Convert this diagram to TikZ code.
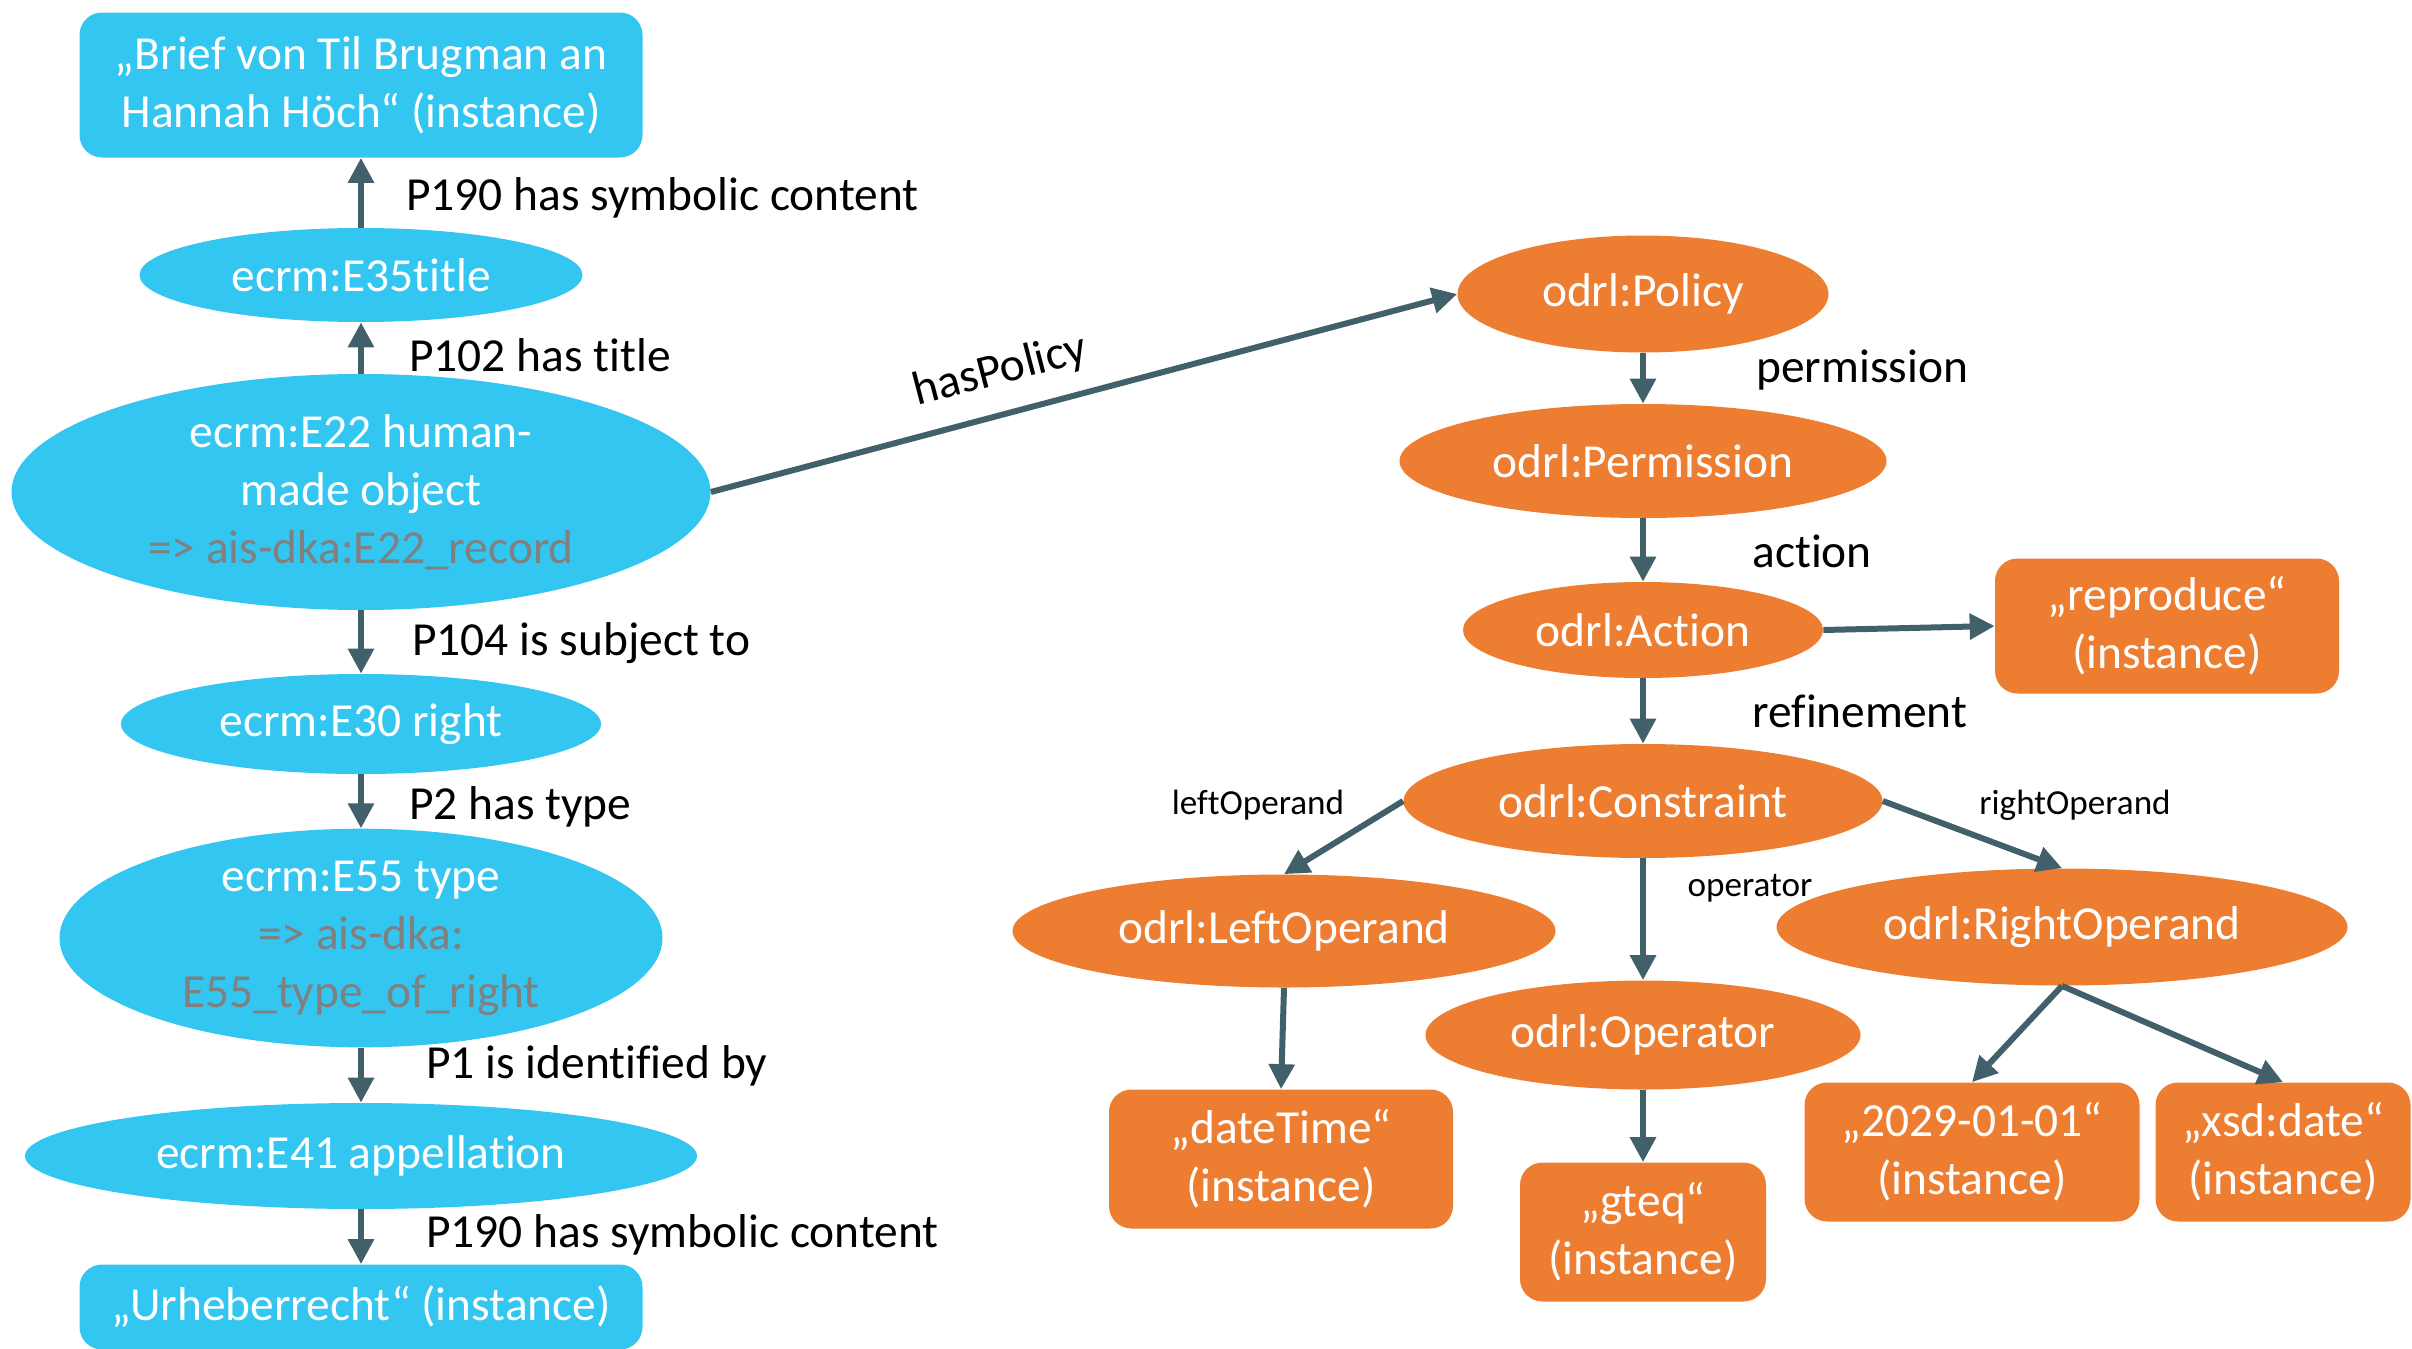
\documentclass[tikz,border=0pt]{standalone}
\usepackage[rgb]{xcolor}
\usepackage{fontspec}
\setmainfont{Carlito}[Ligatures=NoCommon]
\usepackage{tikz}
\usetikzlibrary{shapes.geometric,arrows.meta}

\definecolor{crmblue}{RGB}{50,198,240}
\definecolor{odrlorange}{RGB}{237,125,49}
\definecolor{arrowgrey}{RGB}{65,96,106}
\definecolor{mapgrey}{RGB}{128,128,128}

\tikzset{
  crmclass/.style = {ellipse, fill=crmblue, text=white, inner sep=0pt, align=center},
  crminst/.style = {rectangle, rounded corners=0.45cm, fill=crmblue, text=white, inner sep=0pt, align=center},
  odrlclass/.style = {ellipse, fill=odrlorange, text=white, inner sep=0pt, align=center},
  odrlinst/.style = {rectangle, rounded corners=0.45cm, fill=odrlorange, text=white, inner sep=0pt, align=center},
  rel/.style = {->, line width=0.12cm, draw=arrowgrey, >={Triangle[length=0.5cm,width=0.5cm]}},
  rellabel/.style = {anchor=west, inner sep=0pt},
  smalllabel/.style = {inner sep=0pt, font=\fontsize{20}{24}\selectfont}
}

\begin{document}
\begin{tikzpicture}[scale=1, font=\fontsize{27}{33}\selectfont]

\clip (0,0) rectangle (48.24,-26.96);

% CIDOC-CRM side in blue
\path
(7.22,-1.7) node [crminst, minimum width=11.26cm, minimum height=2.9cm] (brief)
  {„Brief von Til Brugman an\\Hannah Höch“ (instance)}
(7.22,-5.5) node [crmclass, minimum width=8.86cm, minimum height=1.88cm] (title) {ecrm:E35title}
(7.22,-9.84) node [crmclass, minimum width=13.98cm, minimum height=4.72cm] (object)
  {ecrm:E22 human-\\made object\\\textcolor{mapgrey}{=> ais-dka:E22\_record}}
(7.22,-14.48) node [crmclass, minimum width=9.6cm, minimum height=2.0cm] (right) {ecrm:E30 right}
(7.22,-18.76) node [crmclass, minimum width=12.06cm, minimum height=4.0cm] (righttype)
  {ecrm:E55 type\\\textcolor{mapgrey}{=> ais-dka:}\\\textcolor{mapgrey}{E55\_type\_of\_right}}
(7.22,-23.12) node [crmclass, minimum width=13.44cm, minimum height=2.12cm] (appellation) {ecrm:E41 appellation}
(7.22,-26.14) node [crminst, minimum width=11.26cm, minimum height=1.7cm] (urheber)
  {„Urheberrecht“ (instance)};

\draw [rel] (title) -- (brief);
\draw [rel] (object) -- (title);
\draw [rel] (object) -- (right);
\draw [rel] (right) -- (righttype);
\draw [rel] (righttype) -- (appellation);
\draw [rel] (appellation) -- (urheber);

\path
(8.12,-3.96) node [rellabel] (symbolic1) {P190 has symbolic content}
(8.18,-7.1) node [rellabel] (hastitle) {P102 has title}
(8.24,-12.86) node [rellabel] (subject) {P104 is subject to}
(8.18,-16.14) node [rellabel] (hastype) {P2 has type}
(8.52,-21.32) node [rellabel] (identified) {P1 is identified by}
(8.52,-24.7) node [rellabel] (symbolic2) {P190 has symbolic content};

% ODRL side in orange
\path
(32.86,-5.88) node [odrlclass, minimum width=7.42cm, minimum height=2.34cm] (policy) {odrl:Policy}
(32.86,-9.22) node [odrlclass, minimum width=9.74cm, minimum height=2.28cm] (permission) {odrl:Permission}
(32.86,-12.6) node [odrlclass, minimum width=7.2cm, minimum height=1.92cm] (action) {odrl:Action}
(43.34,-12.52) node [odrlinst, minimum width=6.88cm, minimum height=2.7cm] (reproduce) {„reproduce“\\(instance)}
(32.86,-16.02) node [odrlclass, minimum width=9.58cm, minimum height=2.28cm] (constraint) {odrl:Constraint}
(25.68,-18.62) node [odrlclass, minimum width=10.86cm, minimum height=2.26cm] (leftop) {odrl:LeftOperand}
(32.86,-20.7) node [odrlclass, minimum width=8.7cm, minimum height=2.18cm] (operator) {odrl:Operator}
(41.24,-18.54) node [odrlclass, minimum width=11.42cm, minimum height=2.34cm] (rightop) {odrl:RightOperand}
(25.62,-23.18) node [odrlinst, minimum width=6.88cm, minimum height=2.78cm] (datetime) {„dateTime“\\(instance)}
(32.86,-24.64) node [odrlinst, minimum width=4.92cm, minimum height=2.78cm] (gteq) {„gteq“\\(instance)}
(39.44,-23.04) node [odrlinst, minimum width=6.7cm, minimum height=2.78cm] (enddate) {„2029-01-01“\\(instance)}
(45.66,-23.04) node [odrlinst, minimum width=5.1cm, minimum height=2.78cm] (xsddate) {„xsd:date“\\(instance)};

\draw [rel] (object.east) -- (policy.west);
\draw [rel] (policy) -- (permission);
\draw [rel] (permission) -- (action);
\draw [rel] (action.east) -- (reproduce.west);
\draw [rel] (action) -- (constraint);
\draw [rel] (constraint.west) -- (leftop.north);
\draw [rel] (constraint.east) -- (rightop.north);
\draw [rel] (constraint) -- (operator);
\draw [rel] (leftop.south) -- (datetime.north);
\draw [rel] (operator) -- (gteq);
\draw [rel] (rightop.south) -- (enddate.north);
\draw [rel] (rightop.south) -- (xsddate.north);

\path
(20.0,-7.42) node [inner sep=0pt, rotate=14.6] (haspolicy) {hasPolicy}
(35.12,-7.4) node [rellabel] (permlabel) {permission}
(35.04,-11.02) node [rellabel] (actlabel) {action}
(35.04,-14.22) node [rellabel] (reflabel) {refinement}
(25.16,-16.1) node [smalllabel] (leftlabel) {leftOperand}
(41.5,-16.1) node [smalllabel] (rightlabel) {rightOperand}
(35.0,-17.76) node [smalllabel] (oplabel) {operator};

\end{tikzpicture}
\end{document}
